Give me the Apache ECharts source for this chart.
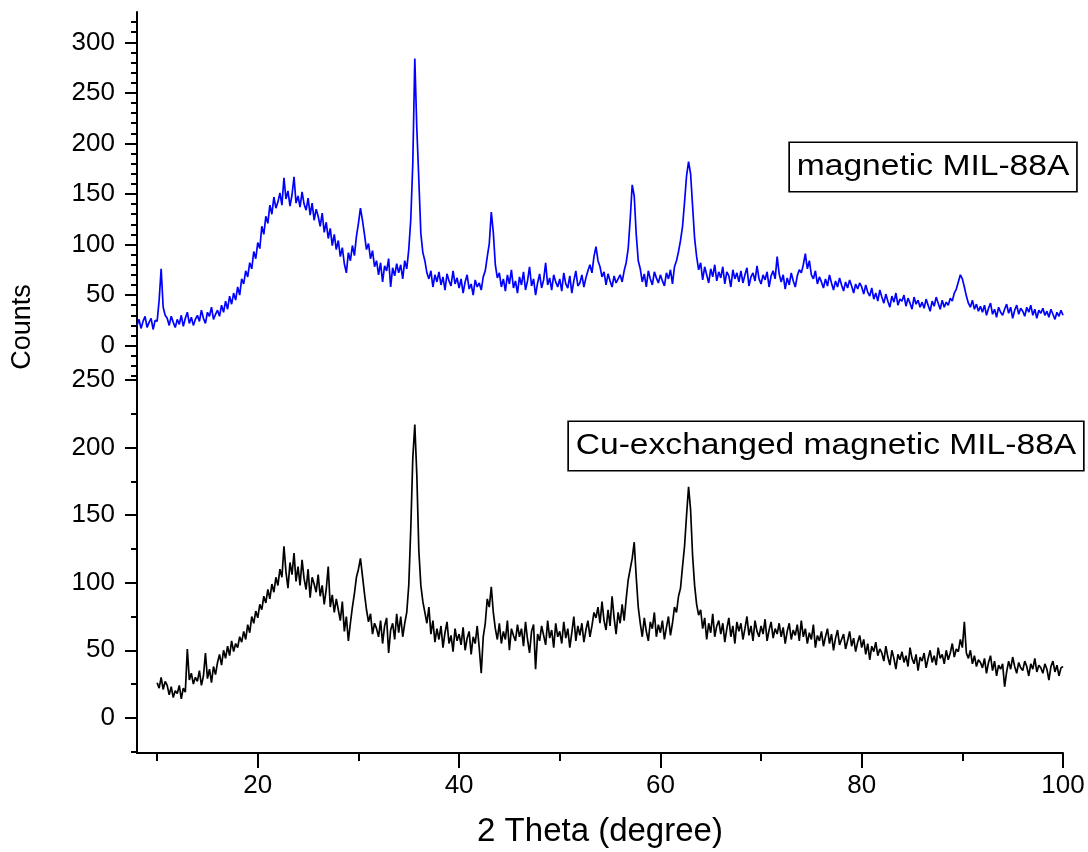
<!DOCTYPE html>
<html>
<head>
<meta charset="utf-8">
<script src="https://cdn.jsdelivr.net/npm/echarts@6/dist/echarts.min.js"></script>
<style>
html,body{margin:0;padding:0;background:#fff}
#chart{width:1088px;height:852px}
</style>
</head>
<body>
<div id="chart"></div>
<script>
const FONT = '"Liberation Sans", Arial, sans-serif';
const xAxisTitle = '2 Theta (degree)';
const yAxisTitle = 'Counts';
const seriesNames = ['magnetic MIL-88A', 'Cu-exchanged magnetic MIL-88A'];
const xTickLabels = [20, 40, 60, 80, 100];
const xMinorTicks = [10, 30, 50, 70, 90];
const topYTickLabels = [0, 50, 100, 150, 200, 250, 300];
const bottomYTickLabels = [0, 50, 100, 150, 200, 250];
const bottomYMinorTicks = [-25, 25, 75, 125, 175, 225];

// 2θ sampling grid (degrees): first angle and step of each scan
const blueStart = 8.0;
const blackStart = 10.0;
const thetaStep = 0.2;

// magnetic MIL-88A (blue), 8.0 .. 100.0 deg
const blueCounts = [
  20,26,17,24,29,18,23,27,16,25,
  24,45,76,38,30,27,20,29,23,18,
  26,21,30,19,27,33,22,28,20,26,
  30,24,35,27,22,33,29,38,26,31,
  35,29,40,33,44,36,49,41,52,45,
  58,50,66,61,74,68,82,76,93,86,
  102,96,118,110,128,121,139,130,147,136,
  142,151,139,166,145,153,138,149,167,141,
  148,137,152,140,134,146,129,141,124,135,
  128,118,131,112,122,106,116,99,110,95,
  104,88,97,81,72,92,84,99,89,108,
  121,136,124,110,95,101,86,94,78,84,
  70,82,63,79,74,86,58,77,69,81,
  72,80,66,84,76,95,125,180,284,215,
  164,111,92,84,72,66,74,58,70,63,
  73,60,68,55,71,64,59,74,61,67,
  57,66,52,63,70,56,61,50,65,58,
  62,55,68,74,88,101,132,112,80,67,
  72,58,66,54,70,61,75,57,64,52,
  68,60,73,55,64,78,59,66,50,62,
  71,57,65,82,60,67,55,70,63,58,
  66,54,72,61,57,69,52,64,74,59,
  62,70,58,67,74,80,72,88,98,84,
  78,68,73,60,71,64,58,69,62,66,
  70,63,74,82,96,125,159,148,110,84,
  76,63,71,58,74,66,60,73,67,62,
  70,64,59,72,66,75,61,78,84,93,
  104,118,142,168,182,170,138,106,88,75,
  82,65,78,70,62,76,68,80,64,73,
  67,78,61,73,69,58,75,66,72,63,
  74,62,70,77,59,68,72,64,79,66,
  61,70,65,73,58,69,74,66,88,71,
  63,70,56,67,60,72,64,58,69,75,
  72,80,91,76,84,70,66,74,61,68,
  63,57,66,59,70,62,55,64,58,67,
  60,54,63,57,65,59,52,61,56,62,
  58,51,60,53,49,57,46,52,44,55,
  48,42,51,44,38,49,43,52,40,46,
  44,50,39,47,42,36,48,41,45,38,
  43,37,46,40,34,44,39,48,42,36,
  45,38,43,40,47,44,52,56,63,70,
  66,58,49,42,38,45,36,41,34,39,
  33,40,30,37,42,31,36,28,38,33,
  30,36,41,32,38,27,35,40,31,37,
  34,29,38,33,40,30,36,27,35,32,
  37,30,34,28,36,31,26,33,29,35,
  30
];

// Cu-exchanged magnetic MIL-88A (black), 10.0 .. 100.0 deg
const blackCounts = [
  26,22,30,21,27,24,17,23,15,20,
  18,24,14,22,19,51,28,33,25,30,
  27,35,24,31,48,29,36,26,38,32,
  41,47,39,50,44,53,46,57,49,55,
  52,60,56,64,58,69,63,75,70,79,
  74,84,80,90,85,95,88,99,93,104,
  98,110,104,127,108,96,115,106,122,101,
  112,98,117,103,95,110,89,104,99,93,
  106,90,98,84,95,112,82,91,78,88,
  80,72,86,64,75,57,70,82,92,104,
  110,118,105,92,80,71,77,62,70,66,
  60,72,55,68,74,48,65,70,58,77,
  63,75,60,70,78,98,140,192,217,180,
  124,98,86,78,70,82,62,72,56,66,
  58,68,52,63,71,55,61,49,66,57,
  62,54,67,50,59,64,47,60,55,68,
  52,33,60,70,88,82,97,78,66,58,
  70,55,64,58,72,50,66,61,57,69,
  60,66,53,71,58,48,64,69,36,62,
  57,68,61,54,72,59,65,52,70,60,
  64,55,71,59,66,52,63,75,57,68,
  61,70,56,65,72,60,68,78,74,82,
  70,86,72,65,80,68,90,74,62,78,
  70,84,72,88,102,110,118,130,104,82,
  70,60,74,64,57,71,66,78,60,69,
  63,72,58,67,75,61,70,82,78,90,
  96,112,127,150,171,154,120,98,84,76,
  80,66,74,58,70,63,77,60,68,72,
  62,70,56,66,74,60,68,55,71,64,
  70,58,66,75,61,68,57,72,64,60,
  68,62,73,57,65,71,59,66,62,70,
  60,67,55,64,70,58,65,61,69,57,
  72,60,66,55,63,58,69,52,61,57,
  64,53,60,66,55,62,50,59,65,54,
  58,62,51,57,64,53,59,49,56,61,
  52,58,47,55,43,53,49,56,46,51,
  48,42,53,45,39,50,44,36,47,43,
  49,41,46,38,52,44,40,47,35,45,
  42,48,37,44,50,41,46,39,52,44,
  47,40,50,43,48,55,45,51,49,58,
  52,71,48,44,50,40,46,38,43,41,
  37,44,33,41,46,35,42,31,39,36,
  40,23,34,42,36,45,38,33,41,37,
  35,42,38,31,40,36,44,34,39,37,
  33,40,36,28,38,42,34,39,31,37,
  38
];

function toPairs(start, counts) {
  return counts.map((v, i) => [Number((start + i * thetaStep).toFixed(2)), v]);
}

const topYMinorTicks = [];
for (let v = -30; v <= 320; v += 10) if (v % 50 !== 0) topYMinorTicks.push(v);

const chart = echarts.init(document.getElementById('chart'), null, { renderer: 'canvas' });

const axisLineStyle = { color: '#000', width: 2 };
const labelStyle = { color: '#000', fontSize: 26, fontFamily: FONT };

const option = {
  animation: false,
  backgroundColor: '#fff',
  grid: [
    { left: 137, width: 926, top: 12, height: 368 },
    { left: 137, width: 926, top: 380, height: 373 }
  ],
  xAxis: [
    { type: 'value', gridIndex: 0, min: 8, max: 100, show: false },
    {
      type: 'value', gridIndex: 1, min: 8, max: 100, position: 'bottom',
      axisLine: { show: true, onZero: false, lineStyle: axisLineStyle },
      axisTick: { show: true, length: 15, lineStyle: { color: '#000', width: 2 }, customValues: xTickLabels },
      axisLabel: Object.assign({ margin: 20, customValues: xTickLabels }, labelStyle),
      splitLine: { show: false },
      name: xAxisTitle, nameLocation: 'middle', nameGap: 62,
      nameTextStyle: { color: '#000', fontSize: 33, fontFamily: FONT }
    },
    {
      type: 'value', gridIndex: 1, min: 8, max: 100, position: 'bottom',
      axisLine: { show: false, onZero: false },
      axisTick: { show: true, length: 8, lineStyle: { color: '#000', width: 2 }, customValues: xMinorTicks },
      axisLabel: { show: false },
      splitLine: { show: false }
    }
  ],
  yAxis: [
    {
      type: 'value', gridIndex: 0, min: -34, max: 330, position: 'left',
      axisLine: { show: true, onZero: false, lineStyle: axisLineStyle },
      axisTick: { show: true, length: 12, lineStyle: { color: '#000', width: 2 }, customValues: topYTickLabels },
      axisLabel: Object.assign({ margin: 22, customValues: topYTickLabels }, labelStyle),
      splitLine: { show: false }
    },
    {
      type: 'value', gridIndex: 0, min: -34, max: 330, position: 'left',
      axisLine: { show: false, onZero: false },
      axisTick: { show: true, length: 6, lineStyle: { color: '#000', width: 2 }, customValues: topYMinorTicks },
      axisLabel: { show: false },
      splitLine: { show: false }
    },
    {
      type: 'value', gridIndex: 1, min: -26, max: 250, position: 'left',
      axisLine: { show: true, onZero: false, lineStyle: axisLineStyle },
      axisTick: { show: true, length: 12, lineStyle: { color: '#000', width: 2 }, customValues: bottomYTickLabels },
      axisLabel: Object.assign({ margin: 22, customValues: bottomYTickLabels }, labelStyle),
      splitLine: { show: false }
    },
    {
      type: 'value', gridIndex: 1, min: -26, max: 250, position: 'left',
      axisLine: { show: false, onZero: false },
      axisTick: { show: true, length: 6, lineStyle: { color: '#000', width: 2 }, customValues: bottomYMinorTicks },
      axisLabel: { show: false },
      splitLine: { show: false }
    }
  ],
  series: [
    {
      name: seriesNames[0], type: 'line', xAxisIndex: 0, yAxisIndex: 0,
      data: toPairs(blueStart, blueCounts),
      showSymbol: false, symbol: 'none',
      lineStyle: { color: '#0000ff', width: 1.7 }
    },
    {
      name: seriesNames[1], type: 'line', xAxisIndex: 1, yAxisIndex: 2,
      data: toPairs(blackStart, blackCounts),
      showSymbol: false, symbol: 'none',
      lineStyle: { color: '#000000', width: 1.7 }
    }
  ],
  graphic: [
    {
      type: 'text', x: 23, y: 327, rotation: Math.PI / 2,
      style: { text: yAxisTitle, fontSize: 27, fontFamily: FONT, fill: '#000', align: 'center', verticalAlign: 'middle' }
    },
    {
      type: 'text', x: 790, y: 143, scaleX: 1.12, z: 10,
      style: {
        text: seriesNames[0], fontSize: 30, fontFamily: FONT, fill: '#000',
        align: 'left', verticalAlign: 'top', lineHeight: 38, padding: [5, 6, 5, 6],
        borderColor: '#000', borderWidth: 1.5, backgroundColor: '#fff'
      }
    },
    {
      type: 'text', x: 569, y: 422, scaleX: 1.12, z: 10,
      style: {
        text: seriesNames[1], fontSize: 30, fontFamily: FONT, fill: '#000',
        align: 'left', verticalAlign: 'top', lineHeight: 38, padding: [5, 6, 5, 6],
        borderColor: '#000', borderWidth: 1.5, backgroundColor: '#fff'
      }
    }
  ]
};

chart.setOption(option);
</script>
</body>
</html>
